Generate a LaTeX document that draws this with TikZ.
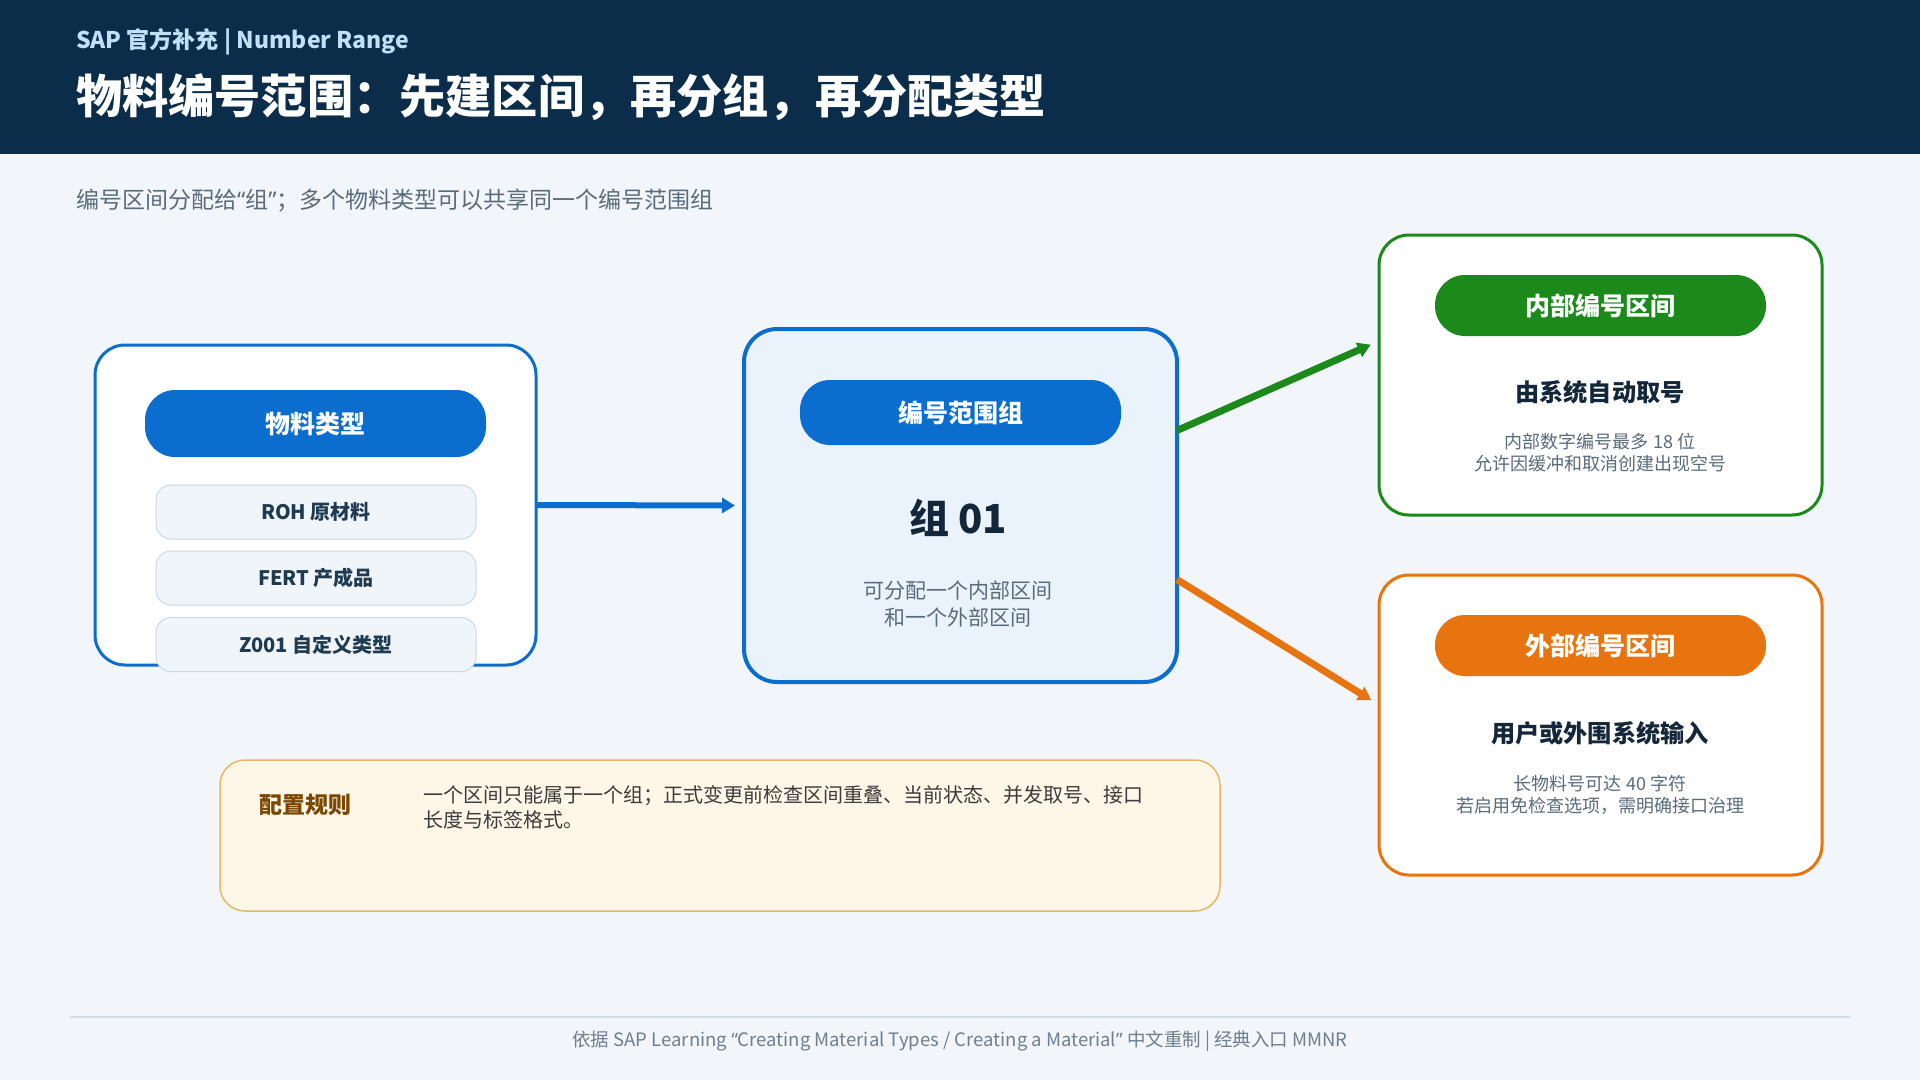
\documentclass[tikz,border=0pt]{standalone}
\usepackage{fontspec}
\setmainfont{Noto Sans CJK SC}
\newfontfamily\latinq{Noto Sans}
\usetikzlibrary{arrows.meta,calc}
\definecolor{bgc}{HTML}{F2F6FA}
\definecolor{navy}{HTML}{0C2D4A}
\definecolor{subblue}{HTML}{BFE0F5}
\definecolor{greytxt}{HTML}{5A6B7C}
\definecolor{sapblue}{HTML}{0B6ECF}
\definecolor{midfill}{HTML}{EAF2FC}
\definecolor{itemfill}{HTML}{F0F5FA}
\definecolor{itemline}{HTML}{CBD9E6}
\definecolor{itemtxt}{HTML}{1F3B52}
\definecolor{darktxt}{HTML}{14273A}
\definecolor{gogreen}{HTML}{1B8A1B}
\definecolor{goorange}{HTML}{E8740F}
\definecolor{rulefill}{HTML}{FEF6E7}
\definecolor{ruleline}{HTML}{E6B865}
\definecolor{ruletitle}{HTML}{7A4600}
\definecolor{ruletxt}{HTML}{3C3C3C}
\definecolor{footline}{HTML}{D5DEE7}
\definecolor{foottxt}{HTML}{6E7E8E}
\newcommand\fsz[2]{\fontsize{#1}{#2}\selectfont}
\newcommand\myoq{{\latinq “}}
\newcommand\mycq{{\latinq ”}}
\begin{document}
\begin{tikzpicture}[x=1pt,y=-1pt,
  every node/.style={inner sep=0pt, outer sep=0pt},
  card/.style={draw=#1, line width=3pt, fill=white, rounded corners=30pt},
  pill/.style={fill=#1, rounded corners=30pt, text=white, font=\fsz{25}{30}\bfseries},
  item/.style={draw=itemline, line width=1pt, fill=itemfill, rounded corners=15pt,
    minimum width=320pt, minimum height=54pt, text=itemtxt, font=\fsz{20}{24}\bfseries},
  conn/.style={line width=#1, -{Triangle[length=13pt,width=15pt]}},
  bigt/.style={text=darktxt, font=\fsz{24.2}{28}\bfseries},
  smallt/.style={text=greytxt, font=\fsz{18}{22}, align=center}
]
\useasboundingbox (0,0) rectangle (1920,1080);
\fill[bgc] (0,0) rectangle (1920,1080);
\fill[navy] (0,0) rectangle (1920,154);

% header
\node[anchor=west, text=subblue, font=\fsz{23}{27}\bfseries] (sub) at (76,42) {SAP 官方补充 | Number Range};
\node[anchor=west, text=white, font=\fsz{46.2}{54}\bfseries] (title) at (76,97) {物料编号范围：先建区间，再分组，再分配类型};
\node[anchor=west, text=greytxt, font=\fsz{23}{27}] (lead) at (76,201) {编号区间分配给\myoq 组\mycq；多个物料类型可以共享同一个编号范围组};

% left card
\node[card=sapblue, minimum width=441pt, minimum height=320pt] (left) at (315.5,505) {};
\node[pill=sapblue, minimum width=341pt, minimum height=67pt] (ltitle) at (315.5,423.5) {物料类型};
\node[item] (roh) at (316,512) {ROH 原材料};
\node[item] (fert) at (316,578) {FERT 产成品};
\node[item] (z001) at (316,644.5) {Z001 自定义类型};

% middle card
\node[draw=sapblue, line width=4pt, fill=midfill, rounded corners=33pt,
  minimum width=433pt, minimum height=353pt] (mid) at (960.5,505.5) {};
\node[pill=sapblue, minimum width=321pt, minimum height=65pt] (mtitle) at (960.5,412.5) {编号范围组};
\node[text=darktxt, font=\fsz{40}{48}\bfseries] (grp) at (958,518) {组 01};
\node[text=greytxt, font=\fsz{21}{27}, align=center] (mtxt) at (958,603.5) {可分配一个内部区间\\和一个外部区间};

% inner range card
\node[card=gogreen, minimum width=443pt, minimum height=280pt] (inner) at (1600.5,375) {};
\node[pill=gogreen, minimum width=331pt, minimum height=61pt] (ititle) at (1600.5,305.5) {内部编号区间};
\node[bigt] (ibig) at (1600,392) {由系统自动取号};
\node[smallt] (itxt) at (1600,453) {内部数字编号最多 18 位\\允许因缓冲和取消创建出现空号};

% outer range card
\node[card=goorange, minimum width=443pt, minimum height=300pt] (outer) at (1600.5,725) {};
\node[pill=goorange, minimum width=331pt, minimum height=61pt] (otitle) at (1600.5,645.5) {外部编号区间};
\node[bigt] (obig) at (1600,733) {用户或外围系统输入};
\node[smallt] (otxt) at (1600,795) {长物料号可达 40 字符\\若启用免检查选项，需明确接口治理};

% rule box
\node[draw=ruleline, line width=1.5pt, fill=rulefill, rounded corners=25pt,
  minimum width=1000pt, minimum height=151pt] (rule) at (720,835.5) {};
\node[anchor=west, text=ruletitle, font=\fsz{23}{26}\bfseries] (rtitle) at (259,805) {配置规则};
\node[anchor=north west, text=ruletxt, font=\fsz{20}{25}, align=left] (rtxt) at (423,786) {一个区间只能属于一个组；正式变更前检查区间重叠、当前状态、并发取号、接口\\长度与标签格式。};

% connectors
\draw[conn=6pt, sapblue, shorten >=9pt] (left.east) -- (mid.west);
\draw[conn=7pt, gogreen, shorten >=9pt] ([yshift=75pt]mid.east) -- ([yshift=34pt]inner.west);
\draw[conn=7pt, goorange, shorten >=9pt] ([yshift=-74pt]mid.east) -- ([yshift=20pt]outer.west);

% footer
\coordinate (fl) at (70,1017);
\coordinate (fr) at (1851,1017);
\draw[footline, line width=1.5pt] (fl) -- (fr);
\node[text=foottxt, font=\fsz{18.5}{22}] (foot) at (960,1041) {依据 SAP Learning \myoq Creating Material Types / Creating a Material\mycq\ 中文重制 | 经典入口 MMNR};
\end{tikzpicture}
\end{document}
